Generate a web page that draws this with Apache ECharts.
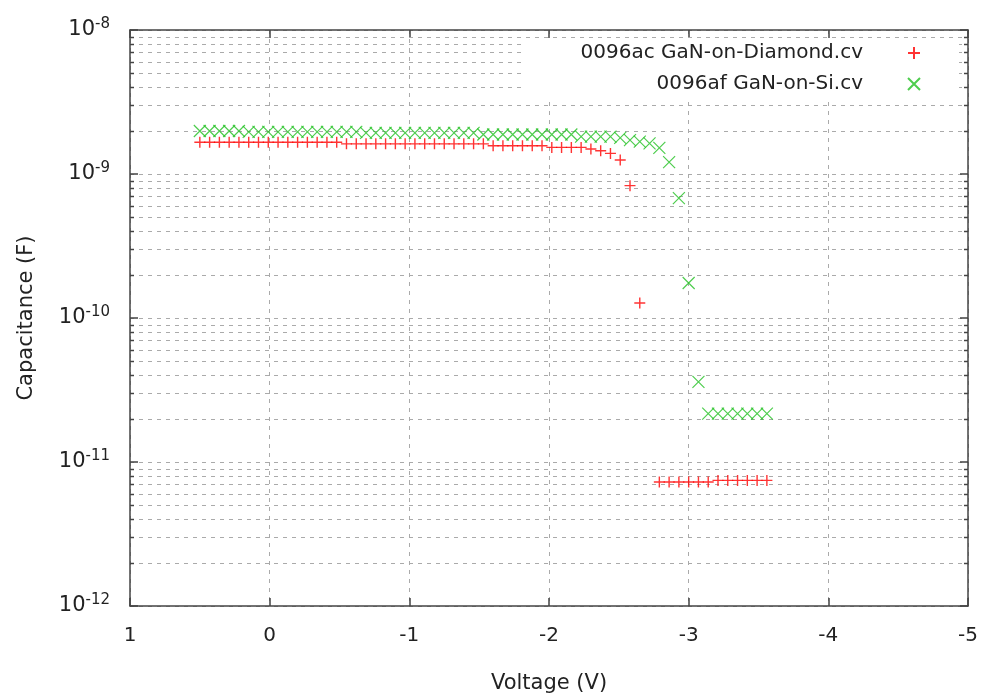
<!DOCTYPE html>
<html>
<head>
<meta charset="utf-8">
<script src="https://cdn.jsdelivr.net/npm/echarts@6/dist/echarts.min.js"></script>
<style>
  html, body { margin: 0; padding: 0; background: #fff; }
  #chart { width: 984px; height: 697px; }
</style>
</head>
<body>
<div id="chart"></div>
<script>
// C-V sweep: gate voltage (V) for each sample point
const voltage = [
  0.50, 0.43, 0.36, 0.29, 0.22, 0.15, 0.08, 0.01, -0.06, -0.13,
  -0.20, -0.27, -0.34, -0.41, -0.48, -0.55, -0.62, -0.69, -0.76, -0.83,
  -0.90, -0.97, -1.04, -1.11, -1.18, -1.25, -1.32, -1.39, -1.46, -1.53,
  -1.60, -1.67, -1.74, -1.81, -1.88, -1.95, -2.02, -2.09, -2.16, -2.23,
  -2.30, -2.37, -2.44, -2.51, -2.58, -2.65, -2.72, -2.79, -2.86, -2.93,
  -3.00, -3.07, -3.14, -3.21, -3.28, -3.35, -3.42, -3.49, -3.56
];

// Capacitance (F), GaN-on-Diamond device (null = no point plotted)
const capDiamond = [
  1.66e-9, 1.66e-9, 1.66e-9, 1.66e-9, 1.66e-9, 1.66e-9, 1.66e-9, 1.66e-9, 1.66e-9, 1.66e-9,
  1.66e-9, 1.66e-9, 1.66e-9, 1.66e-9, 1.66e-9, 1.62e-9, 1.62e-9, 1.62e-9, 1.62e-9, 1.62e-9,
  1.62e-9, 1.62e-9, 1.62e-9, 1.62e-9, 1.62e-9, 1.62e-9, 1.62e-9, 1.62e-9, 1.62e-9, 1.62e-9,
  1.57e-9, 1.57e-9, 1.57e-9, 1.57e-9, 1.57e-9, 1.57e-9, 1.53e-9, 1.53e-9, 1.53e-9, 1.53e-9,
  1.49e-9, 1.45e-9, 1.39e-9, 1.25e-9, 8.3e-10, 1.27e-10, null, 7.27e-12, 7.27e-12, 7.27e-12,
  7.27e-12, 7.27e-12, 7.27e-12, 7.45e-12, 7.45e-12, 7.45e-12, 7.45e-12, 7.45e-12, 7.45e-12
];

// Capacitance (F), GaN-on-Si device
const capSi = [
  1.99e-9, 1.99e-9, 1.99e-9, 1.99e-9, 1.99e-9, 1.96e-9, 1.96e-9, 1.96e-9, 1.96e-9, 1.96e-9,
  1.96e-9, 1.96e-9, 1.96e-9, 1.96e-9, 1.96e-9, 1.96e-9, 1.96e-9, 1.93e-9, 1.93e-9, 1.93e-9,
  1.93e-9, 1.93e-9, 1.93e-9, 1.93e-9, 1.93e-9, 1.93e-9, 1.93e-9, 1.93e-9, 1.93e-9, 1.88e-9,
  1.88e-9, 1.88e-9, 1.88e-9, 1.88e-9, 1.88e-9, 1.88e-9, 1.88e-9, 1.88e-9, 1.88e-9, 1.82e-9,
  1.82e-9, 1.82e-9, 1.82e-9, 1.78e-9, 1.72e-9, 1.68e-9, 1.63e-9, 1.52e-9, 1.21e-9, 6.8e-10,
  1.75e-10, 3.6e-11, 2.17e-11, 2.17e-11, 2.17e-11, 2.17e-11, 2.17e-11, 2.17e-11, 2.17e-11
];

const seriesNames = ['0096ac GaN-on-Diamond.cv', '0096af GaN-on-Si.cv'];
const xTicks = { min: -5, max: 1, step: 1 };
const yRange = { min: 1e-12, max: 1e-8 };

const FONT = 'DejaVu Sans';
const TEXT = '#222';
const FRAME = '#444';
const GRID = '#aaa';

function pairs(xs, ys) {
  const out = [];
  for (let i = 0; i < xs.length; i++) {
    if (ys[i] != null) out.push([xs[i], ys[i]]);
  }
  return out;
}

// 2..9 times each decade: dashed minor grid lines on the log axis
const minorValues = [];
for (let e = -12; e < -8; e++) {
  for (let m = 2; m <= 9; m++) minorValues.push([0, Number(m + 'e' + e)]);
}

const plusPath = 'path://M0,5L10,5M5,0L5,10';
const crossPath = 'path://M0,0L10,10M10,0L0,10';

const frameLine = { show: true, onZero: false, lineStyle: { color: FRAME, width: 1.5 } };
const frameTick = { show: true, inside: true, length: 8, lineStyle: { color: FRAME, width: 1.5 } };
const dashed = { show: true, lineStyle: { color: GRID, width: 1, type: [4, 5] } };

function legendFor(name, top) {
  return {
    data: [name],
    right: 63,
    top: top,
    orient: 'vertical',
    align: 'right',
    padding: 0,
    itemWidth: 12,
    itemHeight: 12,
    selectedMode: false,
    textStyle: { fontFamily: FONT, fontSize: 20, color: TEXT, padding: [0, 40, 0, 0] }
  };
}

const chart = echarts.init(document.getElementById('chart'), null, { renderer: 'canvas' });

chart.setOption({
  animation: false,
  backgroundColor: '#fff',
  grid: { left: 130, right: 16, top: 30, bottom: 91, containLabel: false, outerBoundsMode: 'none' },
  graphic: [{
    type: 'rect',
    left: 523, top: 38,
    shape: { width: 436, height: 60 },
    style: { fill: '#fff' },
    z: 3
  }],
  legend: [legendFor(seriesNames[0], 43), legendFor(seriesNames[1], 74)],
  xAxis: [{
    type: 'value',
    min: xTicks.min, max: xTicks.max, interval: xTicks.step,
    inverse: true,
    position: 'bottom',
    axisLine: frameLine,
    axisTick: frameTick,
    axisLabel: { margin: 20, fontFamily: FONT, fontSize: 20, color: TEXT },
    splitLine: dashed,
    name: 'Voltage (V)',
    nameLocation: 'middle',
    nameGap: 67,
    nameTextStyle: { fontFamily: FONT, fontSize: 21, color: TEXT }
  }, {
    type: 'value',
    min: xTicks.min, max: xTicks.max, interval: xTicks.step,
    inverse: true,
    position: 'top',
    axisLine: frameLine,
    axisTick: frameTick,
    axisLabel: { show: false },
    splitLine: { show: false }
  }],
  yAxis: [{
    type: 'log',
    logBase: 10,
    min: yRange.min, max: yRange.max,
    axisLine: frameLine,
    axisTick: frameTick,
    axisLabel: {
      margin: 20,
      formatter: function (v) {
        return '{b|10}{s|' + Math.round(Math.log10(v)) + '}';
      },
      rich: {
        b: { fontFamily: FONT, fontSize: 21, color: TEXT, verticalAlign: 'middle' },
        s: { fontFamily: FONT, fontSize: 15, color: TEXT, verticalAlign: 'top', padding: [0, 0, 12, 0] }
      }
    },
    splitLine: dashed,
    name: 'Capacitance (F)',
    nameLocation: 'middle',
    nameGap: 93,
    nameTextStyle: { fontFamily: FONT, fontSize: 21, color: TEXT }
  }, {
    type: 'log',
    logBase: 10,
    min: yRange.min, max: yRange.max,
    position: 'right',
    axisLine: frameLine,
    axisTick: frameTick,
    axisLabel: { show: false },
    splitLine: { show: false }
  }],
  series: [{
    name: 'minor-grid',
    type: 'custom',
    silent: true,
    z: 1,
    data: minorValues,
    encode: { x: 0, y: 1 },
    renderItem: function (params, api) {
      const cs = params.coordSys;
      const y = Math.round(api.coord([0, api.value(1)])[1]) + 0.5;
      const x0 = cs.x, x1 = cs.x + cs.width;
      return {
        type: 'group',
        children: [
          { type: 'line', shape: { x1: x0, y1: y, x2: x1, y2: y },
            style: { stroke: GRID, lineWidth: 1, lineDash: [4, 5] } },
          { type: 'line', shape: { x1: x0, y1: y, x2: x0 + 4, y2: y },
            style: { stroke: FRAME, lineWidth: 1.5 } },
          { type: 'line', shape: { x1: x1 - 4, y1: y, x2: x1, y2: y },
            style: { stroke: FRAME, lineWidth: 1.5 } }
        ]
      };
    }
  }, {
    name: seriesNames[0],
    type: 'scatter',
    z: 5,
    symbol: plusPath,
    symbolSize: 11,
    itemStyle: { color: '#ff0000', borderColor: '#ff0000', borderWidth: 1.4 },
    data: pairs(voltage, capDiamond)
  }, {
    name: seriesNames[1],
    type: 'scatter',
    z: 5,
    symbol: crossPath,
    symbolSize: 12,
    itemStyle: { color: '#22c022', borderColor: '#22c022', borderWidth: 1.2 },
    data: pairs(voltage, capSi)
  }]
});
</script>
</body>
</html>
